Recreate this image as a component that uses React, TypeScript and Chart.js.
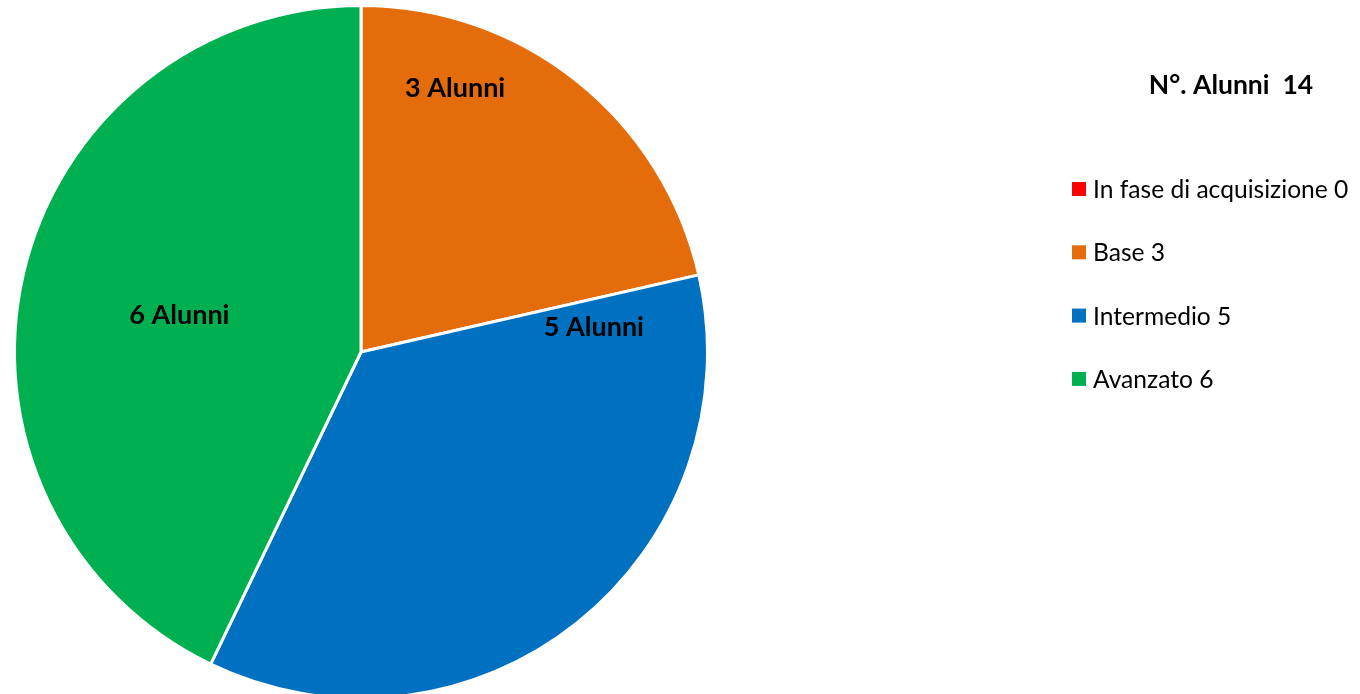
import React, { useEffect, useRef } from "react";
import { Chart, registerables } from "chart.js";

Chart.register(...registerables);

const categories: string[] = ["In fase di acquisizione", "Base", "Intermedio", "Avanzato"];
const values: number[] = [0, 3, 5, 6];
const sliceColors: string[] = ["#FF0000", "#E46C0A", "#0070C0", "#00B050"];
const titlePrefix = "N°. Alunni";
const labelSuffix = "Alunni";

// label placement within each slice: t = fraction along slice angle, r = fraction of radius
const labelPlacement = [
  { t: 0.5, r: 0.6 },
  { t: 0.255, r: 0.807 },
  { t: 0.052, r: 0.676 },
  { t: 0.4915, r: 0.535 },
];

const FONT = 'Lato, Carlito, "Open Sans", sans-serif';

const overlayPlugin = {
  id: "overlay",
  afterDatasetsDraw(chart: any) {
    const ctx = chart.ctx as CanvasRenderingContext2D;
    const meta = chart.getDatasetMeta(0);
    const data: number[] = chart.data.datasets[0].data;
    ctx.save();
    // data labels
    ctx.fillStyle = "#000";
    ctx.font = `bold 27px ${FONT}`;
    ctx.textAlign = "center";
    ctx.textBaseline = "middle";
    meta.data.forEach((arc: any, i: number) => {
      const v = data[i];
      if (!v) return;
      const p = labelPlacement[i];
      const a = arc.startAngle + (arc.endAngle - arc.startAngle) * p.t;
      const r = arc.outerRadius * p.r;
      ctx.fillText(`${v} ${labelSuffix}`, arc.x + Math.cos(a) * r, arc.y + Math.sin(a) * r);
    });

    // legend title
    const total = data.reduce((s, v) => s + v, 0);
    ctx.font = `bold 26.5px ${FONT}`;
    ctx.textAlign = "center";
    ctx.fillText(`${titlePrefix}  ${total}`, 1231, 85);

    // legend items
    ctx.font = `24.6px ${FONT}`;
    ctx.textAlign = "left";
    const labels: string[] = chart.data.labels;
    const colors: string[] = chart.data.datasets[0].backgroundColor;
    labels.forEach((lab, i) => {
      const y = 189 + i * 63.3;
      ctx.fillStyle = colors[i];
      ctx.fillRect(1072, y - 7, 14, 14);
      ctx.fillStyle = "#000";
      ctx.fillText(`${lab} ${data[i]}`, 1093, y + 1);
    });
    ctx.restore();
  },
};

export default function App() {
  const ref = useRef<HTMLCanvasElement | null>(null);
  useEffect(() => {
    if (!ref.current) return;
    const chart = new Chart(ref.current, {
      type: "pie",
      data: {
        labels: categories,
        datasets: [
          {
            data: values,
            backgroundColor: sliceColors,
            borderColor: "#FFFFFF",
            borderWidth: 3,
            radius: 346.5,
            clip: false,
          } as any,
        ],
      },
      options: {
        responsive: false,
        animation: false,
        layout: { padding: { left: 0, right: 638, top: 10, bottom: 0 } },
        plugins: {
          legend: { display: false },
          tooltip: { enabled: false },
          title: { display: false },
        },
      },
      plugins: [overlayPlugin],
    });
    return () => chart.destroy();
  }, []);
  return (
    <div style={{ position: "fixed", left: 0, top: 0, width: 1360, height: 694, background: "#fff" }}>
      <canvas ref={ref} width={1360} height={694} style={{ width: 1360, height: 694, display: "block" }} />
    </div>
  );
}
